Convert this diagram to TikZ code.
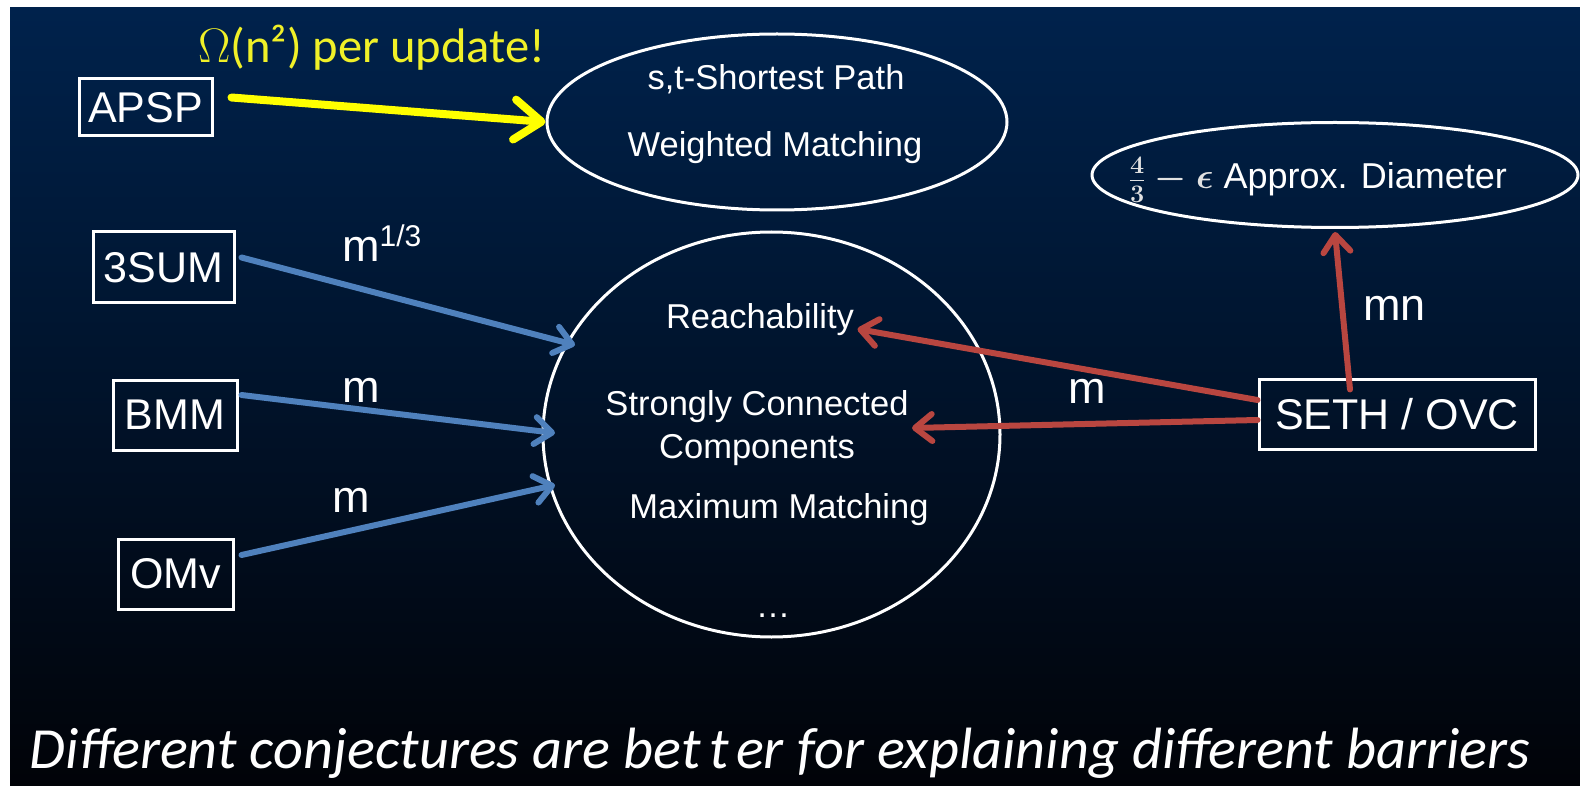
\RequirePackage{fix-cm}
\documentclass[tikz,border=0pt]{standalone}
\usepackage{fontspec}
\setmainfont{Liberation Sans}
\newfontfamily\calibri{Carlito}
\usetikzlibrary{shapes.geometric,arrows.meta}
\definecolor{bgtop}{RGB}{0,34,76}
\definecolor{bgmid}{RGB}{4,20,44}
\definecolor{bgbot}{RGB}{1,3,8}
\definecolor{arrblue}{RGB}{79,129,189}
\definecolor{arrred}{RGB}{185,70,64}
\definecolor{arryel}{RGB}{255,255,0}
\definecolor{txtyel}{RGB}{240,240,40}
\definecolor{fracgray}{RGB}{225,225,225}
\tikzset{
  cbox/.style={draw=white, line width=3pt, text=white, rectangle, inner sep=0pt,
    font=\fontsize{43}{50}\selectfont},
  ell/.style={draw=white, line width=3pt, ellipse, inner sep=0pt},
  itext/.style={text=white, font=\fontsize{34.5}{43}\selectfont},
  lbl/.style={text=white, inner sep=0pt, font=\fontsize{45}{50}\selectfont},
  bluearrow/.style={draw=arrblue, line width=6pt, line cap=round,
    -{Straight Barb[length=17pt,width=27pt,round]}},
  redarrow/.style={draw=arrred, line width=6pt, line cap=round,
    -{Straight Barb[length=17pt,width=27pt,round]}},
  yelarrow/.style={draw=arryel, line width=8pt, line cap=round,
    -{Straight Barb[length=27pt,width=40pt,round]}},
}
\begin{document}
\begin{tikzpicture}[x=1pt,y=-1pt]
\useasboundingbox (0,0) rectangle (1580,786);
% page and slide background
\fill[white] (0,0) rectangle (1580,786);
\shade[top color=bgtop, middle color=bgmid, bottom color=bgbot] (10,8) rectangle (1580,786);

% conjecture boxes
\node[cbox, minimum width=133pt, minimum height=57pt] (apsp) at (145.5,107.5) {APSP};
\node[cbox, minimum width=141pt, minimum height=71pt] (sum) at (163.5,267.5) {3SUM};
\node[cbox, minimum width=124pt, minimum height=70pt] (bmm) at (175,415) {BMM};
\node[cbox, minimum width=115pt, minimum height=70pt] (omv) at (175.5,574) {OMv};
\node[cbox, minimum width=276pt, minimum height=70pt] (seth) at (1397,414) {SETH / OVC};

% problem groups
\node[ell, minimum width=460pt, minimum height=176pt] (sp) at (777,122) {};
\node[itext, anchor=base] (stp) at (776,90) {s,t-Shortest Path};
\node[itext, anchor=base] (wm) at (775,157) {Weighted Matching};

\node[ell, minimum width=457pt, minimum height=405pt] (circ) at (771.5,434.5) {};
\node[itext, anchor=base] (reach) at (760,329) {Reachability};
\node[itext, align=center] (scc) at (757,428) {Strongly Connected\\Components};
\node[itext, anchor=base] (maxm) at (779,518) {Maximum Matching};
\node[itext, anchor=base] (dots) at (773,617) {…};

\node[ell, minimum width=486pt, minimum height=105pt] (diam) at (1335,175) {};
\node[text=white, anchor=base, inner sep=0pt, font=\fontsize{36}{42}\selectfont]
  (diamtxt) at (1318,189) {\textcolor{fracgray}{\boldmath$\frac{4}{3}-\epsilon$} Approx. Diameter};

% reductions
\draw[yelarrow] ([xshift=18pt,yshift=10pt]apsp.east) -- (sp.west);
\node[anchor=base west, inner sep=0pt, text=txtyel, font=\calibri\fontsize{48.5}{52}\selectfont]
  (omega) at (198,63) {$\Omega$(n²) per update!};

\coordinate (inA) at (575,345);
\coordinate (inB) at (555,433);
\coordinate (inC) at (555,485);
\draw[bluearrow] ([xshift=6pt,yshift=10pt]sum.east) -- (inA);
\draw[bluearrow] ([xshift=3pt,yshift=20pt]bmm.east) -- (inB);
\draw[bluearrow] ([xshift=7pt,yshift=19pt]omv.east) -- (inC);

\draw[redarrow] ([yshift=14pt]seth.west) -- (reach.base east);
\draw[redarrow] ([yshift=-6pt]seth.west) -- (scc.east);
\draw[redarrow] ([xshift=-47pt,yshift=-12pt]seth.north) -- ([yshift=-3pt]diam.south);

% bound labels
\node[lbl, anchor=base west] (l3sum) at (342,262) {m\raisebox{15pt}{\fontsize{30}{32}\selectfont 1/3}};
\node[lbl, anchor=base west] (lbmm) at (342,402) {m};
\node[lbl, anchor=base west] (lomv) at (332,512) {m};
\node[lbl, anchor=base west] (lseth) at (1068,403) {m};
\node[lbl, anchor=base west] (lmn) at (1363,321) {mn};

% caption
\node[anchor=base, inner sep=0pt, text=white] (caption) at (780,768)
  {\resizebox{1500pt}{!}{\calibri\itshape Different conjectures are bet\hspace{0.15em}t\hspace{0.12em}er for explaining different barriers}};
\end{tikzpicture}
\end{document}
